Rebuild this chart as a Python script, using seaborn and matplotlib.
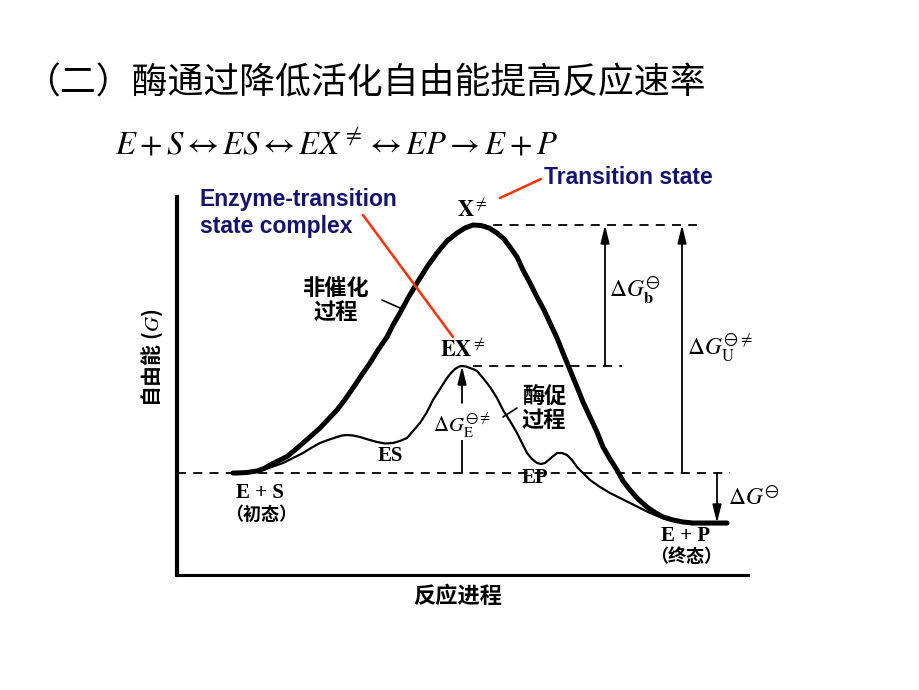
import numpy as np
import pandas as pd
import seaborn as sns
import matplotlib
matplotlib.use('Agg')
import matplotlib.pyplot as plt

# %%
# curves: progress (x) and free energy G (arbitrary units)
uncat_x = [56, 60, 70, 80, 87, 93, 101, 110, 118, 126, 134, 143, 151, 160, 168, 176, 184,
           193, 201, 210, 216, 223, 231, 240, 250, 260, 270, 280, 288, 296, 304, 312, 320,
           327, 333, 340, 346, 353, 360, 367, 373, 380, 386, 393, 400, 406, 413, 420, 426,
           433, 440, 446, 453, 461, 470, 478, 486, 496, 506, 516, 526, 550]
uncat_g = [102, 102, 102.5, 104, 106.5, 110, 114, 118.5, 125, 132, 139, 147, 155.5, 165,
           175.5, 187, 199, 212, 225, 238, 250, 262, 277, 292, 308, 322, 334, 342, 347, 350,
           349.5, 347, 342, 336, 328, 318, 305, 292, 278, 265, 252, 237, 222, 205, 188, 173,
           158, 143, 128, 116, 105, 94, 85, 76, 68, 62.5, 58, 55, 53, 52, 52, 52]

cat_x = [56, 60, 73, 86, 96, 106, 116, 126, 134, 143, 151, 160, 165, 170, 176, 183, 191,
         200, 208, 216, 223, 230, 236, 243, 250, 256, 263, 270, 274, 278, 282, 285, 289,
         293, 297, 300, 306, 313, 320, 326, 333, 340, 345, 350, 355, 360, 364, 368, 374,
         380, 385, 390, 395, 400, 406, 413, 423, 433, 443, 453, 463, 473, 483, 493, 503,
         513, 540]
cat_g = [102, 102, 103.5, 105, 108.5, 112, 117, 122, 127, 132, 135, 138, 139.5, 140, 139.5,
         138, 135.5, 133, 131.5, 132, 134, 137, 144, 152, 163, 175, 186, 197, 202, 206,
         208.5, 209, 208.5, 207, 205.5, 204, 197, 188, 177, 165, 154, 142, 132, 122, 116,
         112, 111, 112, 117, 122, 122, 120, 115, 108, 102, 95, 88, 82, 77, 72, 67, 62, 58,
         55, 53, 52, 52]

# energy levels
g_initial = 102
g_transition = 350
g_enzyme_ts = 209
g_final = 52

title = '（二）酶通过降低活化自由能提高反应速率'
equation = r'$E+S\leftrightarrow ES\leftrightarrow EX^{\neq}\leftrightarrow EP\rightarrow E+P$'
navy = '#14146e'
red = '#ff3300'

# %%
sns.set_theme(style='white')
plt.rcParams['font.family'] = ['Noto Sans CJK SC', 'DejaVu Sans']
plt.rcParams['mathtext.fontset'] = 'stix'
plt.rcParams['text.color'] = 'black'
plt.rcParams['axes.labelcolor'] = 'black'

fig = plt.figure(figsize=(9.2, 6.9), dpi=100)
ax = fig.add_axes([177 / 920, 115 / 690, 571 / 920, 378 / 690])

df_u = pd.DataFrame({'progress': uncat_x, 'G': uncat_g})
df_c = pd.DataFrame({'progress': cat_x, 'G': cat_g})

sns.lineplot(data=df_c, x='progress', y='G', color='black', linewidth=1.6,
             estimator=None, sort=False, ax=ax)
sns.lineplot(data=df_u, x='progress', y='G', color='black', linewidth=3.6,
             estimator=None, sort=False, ax=ax, solid_capstyle='round')
# flat end state
ax.plot([513, 550], [g_final, g_final], color='black', lw=2.4)

ax.set_xlim(0, 571)
ax.set_ylim(0, 378)
ax.set_xticks([])
ax.set_yticks([])
sns.despine(ax=ax)
ax.spines['left'].set_linewidth(3.0)
ax.spines['bottom'].set_linewidth(2.2)
ax.spines['left'].set_color('black')
ax.spines['bottom'].set_color('black')

# dashed reference levels
dash = dict(color='black', lw=1.3, linestyle=(0, (5, 4)))
ax.plot([0, 553], [g_initial, g_initial], **dash)
ax.plot([300, 520], [g_transition, g_transition], **dash)
ax.plot([296, 445], [g_enzyme_ts, g_enzyme_ts], **dash)

# vertical arrows
arr = dict(arrowstyle='-|>,head_width=0.22,head_length=0.9', color='black', lw=1.3,
           shrinkA=0, shrinkB=0)
ax.annotate('', xy=(428, g_transition), xytext=(428, g_enzyme_ts), arrowprops=arr)
ax.annotate('', xy=(505, g_transition), xytext=(505, g_initial), arrowprops=arr)
ax.annotate('', xy=(285, g_enzyme_ts), xytext=(285, 172), arrowprops=arr)
ax.plot([285, 285], [g_initial, 137], color='black', lw=1.3)
ax.annotate('', xy=(540, g_final), xytext=(540, g_initial), arrowprops=arr)

# labels on the diagram
serif = ['Liberation Serif', 'Noto Sans CJK SC']
ax.text(295, 365, r'$\mathbf{X}^{\neq}$', ha='center', va='center', fontsize=16)
ax.text(286, 225, r'$\mathbf{EX}^{\neq}$', ha='center', va='center', fontsize=16)
ax.text(458, 285, r'$\Delta G^{\ominus}_{\mathbf{b}}$', ha='center', va='center', fontsize=17)
ax.text(543, 227, r'$\Delta G^{\ominus\neq}_{\mathrm{U}}$', ha='center', va='center', fontsize=17)
ax.text(285, 150, r'$\Delta G^{\ominus\neq}_{\mathrm{E}}$', ha='center', va='center', fontsize=15,
        bbox=dict(fc='white', ec='none', pad=0.5))
ax.text(551, 77, r'$\Delta G^{\ominus}$', ha='left', va='center', fontsize=17)

ax.text(213, 119, 'ES', ha='center', va='center', fontsize=15, fontweight='bold', family=serif)
ax.text(358, 97, 'EP', ha='center', va='center', fontsize=15, fontweight='bold', family=serif)
ax.text(83, 82, 'E + S', ha='center', va='center', fontsize=15, fontweight='bold', family=serif)
ax.text(84, 61, '（初态）', ha='center', va='center', fontsize=13, fontweight='bold')
ax.text(509, 39, 'E + P', ha='center', va='center', fontsize=15, fontweight='bold', family=serif)
ax.text(509, 18, '（终态）', ha='center', va='center', fontsize=13, fontweight='bold')

ax.text(159, 275, '非催化\n过程', ha='center', va='center', fontsize=16, fontweight='bold',
        linespacing=1.05)
ax.plot([205, 223], [275, 267], color='black', lw=1.2)
ax.text(367, 167, '酶促\n过程', ha='center', va='center', fontsize=16, fontweight='bold',
        linespacing=1.05)
ax.plot([340, 326], [167, 158], color='black', lw=1.2)

# callouts
ax.plot([323, 364], [377, 396], color=red, lw=1.8, clip_on=False)
ax.plot([186, 276], [360, 238], color=red, lw=1.8, clip_on=False)
ax.text(367, 398, 'Transition state', ha='left', va='center', fontsize=16.5,
        fontweight='bold', color=navy, family='Liberation Sans')
ax.text(23, 362, 'Enzyme-transition\nstate complex', ha='left', va='center', fontsize=16.5,
        fontweight='bold', color=navy, family='Liberation Sans', linespacing=1.2)

ax.set_xlabel('反应进程', fontsize=16, fontweight='bold', va='center')
ax.xaxis.set_label_coords(0.492, -0.056)
ax.set_ylabel(r'自由能 ($\mathit{G}$)', fontsize=15, fontweight='bold', va='center')
ax.yaxis.set_label_coords(-0.044, 0.574)

fig.text(24 / 920, 1 - 84 / 690, title, ha='left', va='center', fontsize=25.8)
fig.text(337 / 920, 1 - 145 / 690, equation, ha='center', va='center', fontsize=23.5)

fig.savefig('out.png', dpi=100)
